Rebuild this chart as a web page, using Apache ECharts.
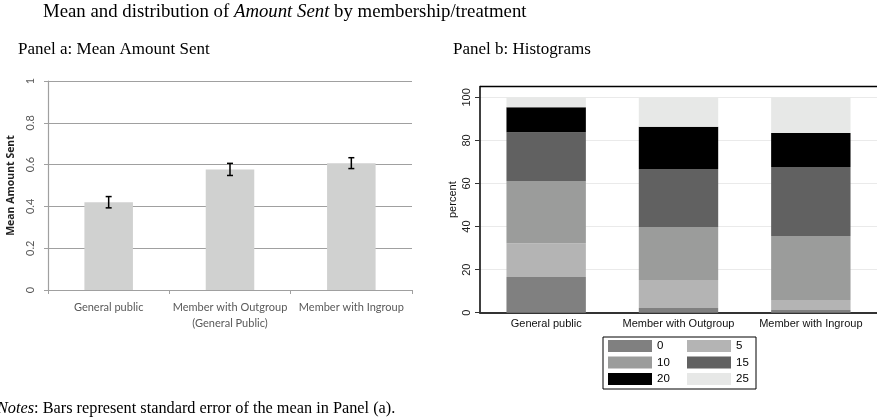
<!DOCTYPE html>
<html>
<head>
<meta charset="utf-8">
<script src="https://cdn.jsdelivr.net/npm/echarts@6/dist/echarts.min.js"></script>
<style>
  html, body { margin: 0; padding: 0; background: #fff; }
  #chart { width: 877px; height: 419px; }
</style>
</head>
<body>
<div id="chart"></div>
<script>
// Panel a: mean amount sent with standard errors
const groupsA = ['General public', 'Member with Outgroup\n(General Public)', 'Member with Ingroup'];
const meanSent = [0.42, 0.577, 0.607];
const seSent = [0.027, 0.029, 0.026];
const ticksA = [0, 0.2, 0.4, 0.6, 0.8, 1];

// Panel b: distribution of amount sent (percent of each group)
const groupsB = ['General public', 'Member with Outgroup', 'Member with Ingroup'];
const amountLevels = ['0', '5', '10', '15', '20', '25'];
const pctAmount0 = [16.6, 2.2, 1.3];
const pctAmount5 = [15.6, 13.0, 4.6];
const pctAmount10 = [29.0, 24.6, 29.7];
const pctAmount15 = [22.6, 26.9, 32.1];
const pctAmount20 = [11.6, 19.7, 15.8];
const pctAmount25 = [4.6, 13.6, 16.5];
const ticksB = [0, 20, 40, 60, 80, 100];

const pctByLevel = [pctAmount0, pctAmount5, pctAmount10, pctAmount15, pctAmount20, pctAmount25];
const levelColors = ['#808080', '#b4b4b4', '#9b9c9b', '#616161', '#000000', '#e7e8e7'];

const serif = '"Liberation Serif", "DejaVu Serif", serif';
const sans = '"Liberation Sans", Arial, sans-serif';
const calibriLike = 'Lato, "Open Sans", sans-serif';

const chart = echarts.init(document.getElementById('chart'), null, { renderer: 'canvas' });

const stackSeries = amountLevels.map((lvl, i) => ({
  name: lvl,
  type: 'bar',
  stack: 'pct',
  xAxisIndex: 1,
  yAxisIndex: 1,
  barWidth: '60%',
  itemStyle: { color: levelColors[i] },
  emphasis: { disabled: true },
  data: pctByLevel[i]
}));

const serifText = (size, italic) => ({
  fontFamily: serif, fontSize: size, fontWeight: 'normal',
  fontStyle: italic ? 'italic' : 'normal', color: '#000'
});

const option = {
  animation: false,
  textStyle: { fontFamily: sans },
  title: [
    {
      left: 43, top: 3, padding: 0,
      text: '{n|Mean and distribution of }{i|Amount Sent}{n| by membership/treatment}',
      textStyle: { fontWeight: 'normal', rich: { n: serifText(18.8, false), i: serifText(18.8, true) } }
    },
    { left: 18, top: 41, padding: 0, text: 'Panel a: Mean Amount Sent',
      textStyle: serifText(17, false) },
    { left: 453, top: 41, padding: 0, text: 'Panel b: Histograms',
      textStyle: serifText(17, false) },
    { left: -3, top: 401, padding: 0,
      text: '{i|Notes}{n|: Bars represent standard error of the mean in Panel (a).}',
      textStyle: { fontWeight: 'normal', rich: { n: serifText(16.3, false), i: serifText(16.3, true) } }
    }
  ],
  legend: [
    {
      data: ['0', '10', '20'], orient: 'vertical', left: 608, top: 340, padding: 0,
      itemWidth: 44, itemHeight: 12, itemGap: 4.5, selectedMode: false,
      icon: 'rect', textStyle: { fontFamily: sans, fontSize: 11.5, color: '#000' }
    },
    {
      data: ['5', '15', '25'], orient: 'vertical', left: 687, top: 340, padding: 0,
      itemWidth: 44, itemHeight: 12, itemGap: 4.5, selectedMode: false,
      icon: 'rect', textStyle: { fontFamily: sans, fontSize: 11.5, color: '#000' }
    }
  ],
  graphic: [
    { type: 'rect', shape: { x: 603, y: 337, width: 153, height: 52 },
      style: { fill: 'none', stroke: '#000', lineWidth: 1 }, z: 10 },
    { type: 'line', shape: { x1: 480, y1: 86.5, x2: 877, y2: 86.5 },
      style: { stroke: '#000', lineWidth: 1.5 }, z: 10 }
  ],
  grid: [
    { left: 48, top: 81, width: 364, height: 209 },
    { left: 480, top: 86.6, width: 397.5, height: 226.1 }
  ],
  xAxis: [
    {
      type: 'category', gridIndex: 0, data: groupsA,
      axisLine: { lineStyle: { color: '#a0a0a0', width: 1.2 } },
      axisTick: { show: true, length: 4, lineStyle: { color: '#a0a0a0' } },
      axisLabel: { interval: 0, margin: 9, fontFamily: calibriLike, fontSize: 11,
        color: '#595959', lineHeight: 16 }
    },
    {
      type: 'category', gridIndex: 1, data: groupsB,
      axisLine: { lineStyle: { color: '#333', width: 2 } },
      axisTick: { show: false },
      axisLabel: { interval: 0, margin: 6, fontFamily: sans, fontSize: 11, color: '#111' }
    }
  ],
  yAxis: [
    {
      type: 'value', gridIndex: 0, min: 0, max: 1, interval: 0.2,
      name: 'Mean Amount Sent', nameLocation: 'middle', nameGap: 31,
      nameTextStyle: { fontFamily: '"Open Sans", "DejaVu Sans", sans-serif', fontSize: 10.5,
        fontWeight: 'bold', color: '#222' },
      axisLine: { show: true, lineStyle: { color: '#a0a0a0', width: 1.2 } },
      axisTick: { show: true, length: 4, lineStyle: { color: '#a0a0a0' } },
      axisLabel: { rotate: 90, margin: 12, fontFamily: calibriLike, fontSize: 11, color: '#595959',
        customValues: ticksA, formatter: v => String(Math.round(v * 10) / 10) },
      splitLine: { show: true, lineStyle: { color: '#a0a0a0', width: 1.2 } }
    },
    {
      type: 'value', gridIndex: 1, min: 0, max: 105, interval: 20,
      name: 'percent', nameLocation: 'middle', nameGap: 22,
      nameTextStyle: { fontFamily: sans, fontSize: 11, color: '#111' },
      axisLine: { show: true, lineStyle: { color: '#000', width: 1.5 } },
      axisTick: { show: true, length: 5, lineStyle: { color: '#333' }, customValues: ticksB },
      axisLabel: { rotate: 90, margin: 8, fontFamily: sans, fontSize: 11, color: '#222',
        customValues: ticksB },
      splitLine: { show: true, lineStyle: { color: '#eaeaea', width: 1.2 } }
    }
  ],
  series: [
    {
      type: 'bar', xAxisIndex: 0, yAxisIndex: 0, barWidth: '40%',
      itemStyle: { color: '#d0d1d0' }, emphasis: { disabled: true },
      data: meanSent
    },
    {
      type: 'custom', xAxisIndex: 0, yAxisIndex: 0, z: 5,
      data: meanSent.map((m, i) => [i, m - seSent[i], m + seSent[i]]),
      renderItem: function (params, api) {
        const lo = api.coord([api.value(0), api.value(1)]);
        const hi = api.coord([api.value(0), api.value(2)]);
        const cap = 3;
        const st = { stroke: '#000', lineWidth: 1.5 };
        return {
          type: 'group',
          children: [
            { type: 'line', shape: { x1: lo[0], y1: lo[1], x2: hi[0], y2: hi[1] }, style: st },
            { type: 'line', shape: { x1: lo[0] - cap, y1: lo[1], x2: lo[0] + cap, y2: lo[1] }, style: st },
            { type: 'line', shape: { x1: hi[0] - cap, y1: hi[1], x2: hi[0] + cap, y2: hi[1] }, style: st }
          ]
        };
      }
    }
  ].concat(stackSeries)
};

chart.setOption(option);
</script>
</body>
</html>
